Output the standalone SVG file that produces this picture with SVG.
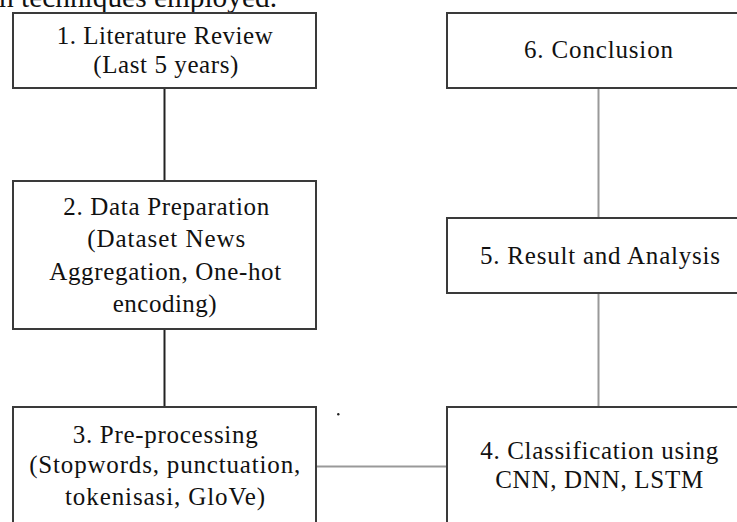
<svg xmlns="http://www.w3.org/2000/svg" width="737" height="522" viewBox="0 0 737 522">
<style>
.box{fill:#fff;stroke:#3a3a3a;stroke-width:2}
.cl{stroke:#222;stroke-width:2;fill:none}
.cg{stroke:#999;stroke-width:2;fill:none}
</style>
<rect width="737" height="522" fill="#fff"/>
<text x="-1" y="7" font-family="Liberation Serif, Times New Roman, serif" font-size="29" fill="#111" textLength="278" lengthAdjust="spacingAndGlyphs">n techniques employed.</text>
<g id="connectors">
<line class="cl" x1="164.5" y1="88" x2="164.5" y2="181"/>
<line class="cl" x1="164.5" y1="329" x2="164.5" y2="407"/>
<line class="cg" x1="316" y1="466.5" x2="447" y2="466.5"/>
<line class="cg" x1="598.5" y1="88" x2="598.5" y2="218"/>
<line class="cg" x1="598.5" y1="293" x2="598.5" y2="407"/>
</g>
<g font-family="Liberation Serif, Times New Roman, serif" font-size="25" fill="#111" text-anchor="middle">
<g id="n1">
<rect class="box" x="13" y="13" width="303" height="75"/>
<text x="164.7" y="44" textLength="216">1. Literature Review</text>
<text x="165.8" y="73" textLength="145">(Last 5 years)</text>
</g>
<g id="n2">
<rect class="box" x="13" y="181" width="303" height="148"/>
<text x="166.3" y="215" textLength="206">2. Data Preparation</text>
<text x="166.2" y="247" textLength="158">(Dataset News</text>
<text x="165.2" y="280" textLength="232">Aggregation, One-hot</text>
<text x="164.7" y="312" textLength="104">encoding)</text>
</g>
<g id="n3">
<rect class="box" x="13" y="407" width="303" height="130"/>
<text x="165.2" y="443" textLength="185">3. Pre-processing</text>
<text x="164.7" y="473" textLength="271">(Stopwords, punctuation,</text>
<text x="165" y="505" textLength="200">tokenisasi, GloVe)</text>
</g>
<g id="n4">
<rect class="box" x="447" y="407" width="302" height="130"/>
<text x="599.2" y="459" textLength="238">4. Classification using</text>
<text x="599.2" y="488" textLength="208">CNN, DNN, LSTM</text>
</g>
<g id="n5">
<rect class="box" x="447" y="218" width="302" height="75"/>
<text x="600" y="264" textLength="240">5. Result and Analysis</text>
</g>
<g id="n6">
<rect class="box" x="447" y="13" width="302" height="75"/>
<text x="598.5" y="58" textLength="149">6. Conclusion</text>
</g>
</g>
<circle cx="338.3" cy="414.3" r="1.2" fill="#222"/>
</svg>
